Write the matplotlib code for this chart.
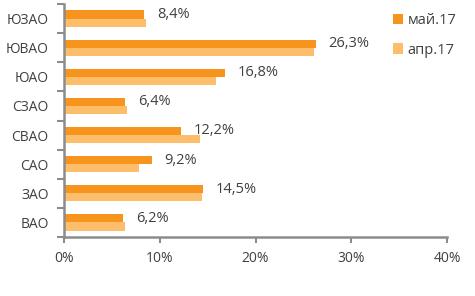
import numpy as np
import matplotlib.pyplot as plt
from matplotlib.ticker import FixedLocator, FuncFormatter

plt.rcParams['font.family'] = ['Open Sans', 'DejaVu Sans']

districts = ['ВАО', 'ЗАО', 'САО', 'СВАО', 'СЗАО', 'ЮАО', 'ЮВАО', 'ЮЗАО']
may17 = [6.2, 14.5, 9.2, 12.2, 6.4, 16.8, 26.3, 8.4]
apr17 = [6.4, 14.4, 7.8, 14.2, 6.6, 15.9, 26.1, 8.6]
series_names = ['май.17', 'апр.17']

c_may = '#F7941D'
c_apr = '#FDBE6C'
grey = '#8C8C8C'
txt = '#404040'

fig = plt.figure(figsize=(4.75, 2.96), dpi=100)
ax = fig.add_axes([64/475, 59/296, 383/475, 233/296])

y = np.arange(len(districts))
h = 0.28
b1 = ax.barh(y + h/2, may17, height=h, color=c_may, label=series_names[0])
b2 = ax.barh(y - h/2, apr17, height=h, color=c_apr, label=series_names[1])

# labels only for the may series, like in the original
for yi, v in zip(y, may17):
    ax.text(v + 1.3, yi + h/2, f'{v:.1f}%'.replace('.', ','),
            va='center', ha='left', fontsize=10.5, color=txt)

ax.set_xlim(0, 40)
ax.set_ylim(-0.5, len(districts) - 0.5)
ax.set_xticks([0, 10, 20, 30, 40])
ax.xaxis.set_major_formatter(FuncFormatter(lambda v, p: f'{v:.0f}%'))
ax.set_yticks(y)
ax.set_yticklabels(districts)
ax.yaxis.set_minor_locator(FixedLocator(np.arange(-0.5, len(districts), 1)))
ax.tick_params(axis='y', which='major', length=0, pad=11, labelsize=10, labelcolor=txt)
ax.tick_params(axis='y', which='minor', length=5, width=1.5, color=grey, direction='out')
ax.tick_params(axis='x', length=4, width=1.5, color=grey, labelsize=10, labelcolor=txt, pad=6)

for s in ['top', 'right']:
    ax.spines[s].set_visible(False)
for s in ['left', 'bottom']:
    ax.spines[s].set_color(grey)
    ax.spines[s].set_linewidth(1.8)

fig.legend(handles=[b1, b2], loc='upper left', bbox_to_anchor=(380/475, 1.0),
           frameon=False, fontsize=10.5, handlelength=0.7, handleheight=0.7,
           handletextpad=0.3, labelspacing=1.0, labelcolor=txt)

fig.savefig('out.png', dpi=100)
